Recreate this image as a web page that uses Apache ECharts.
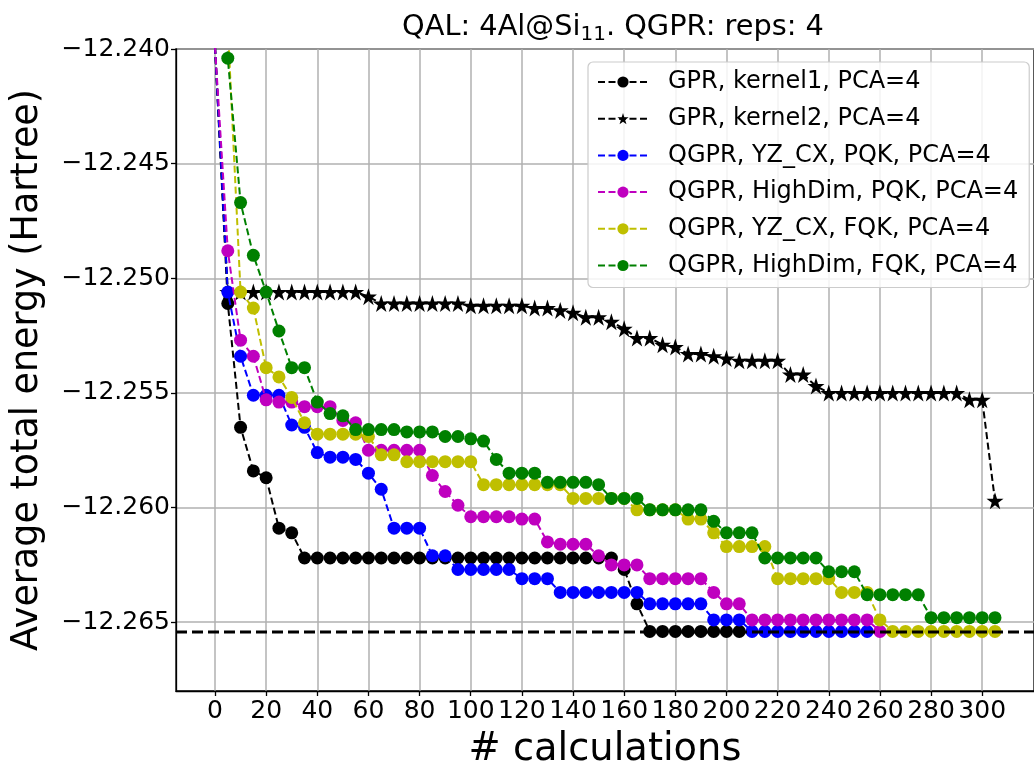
<!DOCTYPE html>
<html>
<head>
<meta charset="utf-8">
<script src="https://cdn.jsdelivr.net/npm/echarts@6/dist/echarts.min.js"></script>
<style>
html,body{margin:0;padding:0;background:#fff;}
#chart{width:1034px;height:774px;}
</style>
</head>
<body>
<div id="chart"></div>
<script>
// ---- data ----
const calcs = [0,5,10,15,20,25,30,35,40,45,50,55,60,65,70,75,80,85,90,95,100,105,110,115,120,125,130,135,140,145,150,155,160,165,170,175,180,185,190,195,200,205,210,215,220,225,230,235,240,245,250,255,260,265,270,275,280,285,290,295,300,305];

const gprKernel1 = [-12.2399,-12.2511,-12.2565,-12.2584,-12.2587,-12.2609,-12.2611,
  -12.2622,-12.2622,-12.2622,-12.2622,-12.2622,-12.2622,-12.2622,-12.2622,-12.2622,-12.2622,-12.2622,-12.2622,-12.2622,
  -12.2622,-12.2622,-12.2622,-12.2622,-12.2622,-12.2622,-12.2622,-12.2622,-12.2622,-12.2622,-12.2622,-12.2622,
  -12.2627,-12.2642,
  -12.2654,-12.2654,-12.2654,-12.2654,-12.2654,-12.2654,-12.2654,-12.2654];

const gprKernel2 = [-12.2399,-12.2506,-12.2506,-12.2506,-12.2506,-12.2506,-12.2506,-12.2506,-12.2506,-12.2506,-12.2506,-12.2506,
  -12.2508,-12.2511,-12.2511,-12.2511,-12.2511,-12.2511,-12.2511,-12.2511,
  -12.2512,-12.2512,-12.2512,-12.2512,-12.2512,-12.2513,-12.2513,-12.2514,-12.2515,-12.2517,-12.2517,
  -12.2519,-12.2522,-12.2526,-12.2526,-12.2529,-12.2530,-12.2533,-12.2533,-12.2534,-12.2535,
  -12.2536,-12.2536,-12.2536,-12.2536,-12.2542,-12.2542,-12.2547,
  -12.2550,-12.2550,-12.2550,-12.2550,-12.2550,-12.2550,-12.2550,-12.2550,-12.2550,-12.2550,-12.2550,
  -12.2553,-12.2553,-12.2597];

const qgprYzPqk = [-12.2399,-12.2506,-12.2534,-12.2551,-12.2551,-12.2551,-12.2564,-12.2565,-12.2576,-12.2578,-12.2578,-12.2579,
  -12.2585,-12.2592,-12.2609,-12.2609,-12.2609,-12.2621,-12.2621,
  -12.2627,-12.2627,-12.2627,-12.2627,-12.2627,
  -12.2631,-12.2631,-12.2631,
  -12.2637,-12.2637,-12.2637,-12.2637,-12.2637,-12.2637,-12.2637,
  -12.2642,-12.2642,-12.2642,-12.2642,-12.2642,
  -12.2649,-12.2649,-12.2649,
  -12.2654,-12.2654,-12.2654,-12.2654,-12.2654,-12.2654,-12.2654,-12.2654,-12.2654,-12.2654];

const qgprHighPqk = [-12.2399,-12.2488,-12.2527,-12.2534,-12.2553,-12.2554,-12.2554,-12.2556,-12.2556,-12.2556,-12.2562,-12.2563,
  -12.2575,-12.2575,-12.2575,-12.2575,-12.2575,
  -12.2586,-12.2593,-12.2599,
  -12.2604,-12.2604,-12.2604,-12.2604,-12.2605,-12.2605,
  -12.2615,-12.2616,-12.2616,-12.2616,-12.2621,
  -12.2625,-12.2625,-12.2625,
  -12.2631,-12.2631,-12.2631,-12.2631,-12.2631,
  -12.2637,-12.2642,-12.2642,
  -12.2649,-12.2649,-12.2649,-12.2649,-12.2649,-12.2649,-12.2649,-12.2649,-12.2649,-12.2649,
  -12.2654];

const qgprYzFqk = [-12.2300,-12.2390,-12.2506,-12.2513,-12.2539,-12.2543,-12.2552,-12.2563,
  -12.2568,-12.2568,-12.2568,-12.2568,-12.2569,-12.2577,-12.2577,
  -12.2580,-12.2580,-12.2580,-12.2580,-12.2580,-12.2580,
  -12.2590,-12.2590,-12.2590,-12.2590,-12.2590,-12.2590,-12.2590,
  -12.2596,-12.2596,-12.2596,-12.2596,-12.2596,
  -12.2601,-12.2601,-12.2601,-12.2601,
  -12.2605,-12.2605,-12.2611,
  -12.2617,-12.2617,-12.2617,-12.2617,
  -12.2631,-12.2631,-12.2631,-12.2631,-12.2631,
  -12.2637,-12.2637,-12.2637,-12.2649,
  -12.2654,-12.2654,-12.2654,-12.2654,-12.2654,-12.2654,-12.2654,-12.2654,-12.2654];

const qgprHighFqk = [-12.2250,-12.2404,-12.2467,-12.2490,-12.2506,-12.2523,-12.2539,-12.2539,-12.2554,-12.2559,-12.2560,
  -12.2566,-12.2566,-12.2566,-12.2566,
  -12.2567,-12.2567,-12.2567,-12.2569,-12.2569,-12.2570,-12.2571,-12.2579,
  -12.2585,-12.2585,-12.2585,
  -12.2589,-12.2589,-12.2589,-12.2589,-12.2590,
  -12.2596,-12.2596,-12.2596,
  -12.2601,-12.2601,-12.2601,-12.2601,-12.2601,
  -12.2606,-12.2611,-12.2611,-12.2611,
  -12.2622,-12.2622,-12.2622,-12.2622,-12.2622,
  -12.2628,-12.2628,-12.2628,
  -12.2638,-12.2638,-12.2638,-12.2638,-12.2638,
  -12.2648,-12.2648,-12.2648,-12.2648,-12.2648,-12.2648];

const referenceEnergy = -12.26543;

const seriesNames = ['GPR, kernel1, PCA=4','GPR, kernel2, PCA=4','QGPR, YZ_CX, PQK, PCA=4','QGPR, HighDim, PQK, PCA=4','QGPR, YZ_CX, FQK, PCA=4','QGPR, HighDim, FQK, PCA=4'];
const seriesColors = ['#000000','#000000','#0000ff','#bf00bf','#bfbf00','#008000'];
const seriesValues = [gprKernel1,gprKernel2,qgprYzPqk,qgprHighPqk,qgprYzFqk,qgprHighFqk];

const xTicks = [0,20,40,60,80,100,120,140,160,180,200,220,240,260,280,300];
const yTicks = [-12.265,-12.260,-12.255,-12.250,-12.245,-12.240];
const xMin = -15.25, xMax = 320.25, yMin = -12.268, yMax = -12.240;

// ---- chart ----
const FONT = 'DejaVu Sans';
const STAR = 'path://M50,0 L61.2,34.5 L97.6,34.5 L68.2,55.9 L79.4,90.5 L50,69.1 L20.6,90.5 L31.8,55.9 L2.4,34.5 L38.8,34.5 Z';

const series = seriesValues.map((vals, k) => ({
  name: seriesNames[k],
  type: 'line',
  data: vals.map((v, i) => [calcs[i], v]),
  symbol: k === 1 ? STAR : 'circle',
  symbolSize: k === 1 ? 17 : 13,
  showAllSymbol: true,
  clip: true,
  animation: false,
  color: seriesColors[k],
  itemStyle: { color: seriesColors[k], borderWidth: 0 },
  lineStyle: { color: seriesColors[k], width: 2, type: [7, 3.5] },
  emphasis: { disabled: true },
  z: 2 + k
}));

// horizontal dashed reference line across the whole x range
series.push({
  name: 'reference',
  type: 'line',
  data: [[xMin, referenceEnergy], [xMax, referenceEnergy]],
  symbol: 'none',
  silent: true,
  clip: true,
  animation: false,
  color: '#000',
  lineStyle: { color: '#000', width: 3, type: [11, 5] },
  emphasis: { disabled: true },
  z: 20
});

const fmtY = v => '\u2212' + Math.abs(v).toFixed(3);

const option = {
  animation: false,
  backgroundColor: '#ffffff',
  textStyle: { fontFamily: FONT },
  title: {
    text: '{a|QAL: 4Al@Si}{b|11}{a|. QGPR: reps: 4}',
    left: 608,
    textAlign: 'center',
    top: 6,
    textStyle: {
      fontFamily: FONT,
      fontWeight: 'normal',
      color: '#000',
      rich: {
        a: { fontFamily: FONT, fontSize: 28.8, color: '#000', lineHeight: 34 },
        b: { fontFamily: FONT, fontSize: 20, color: '#000', lineHeight: 34, padding: [14, 0, 0, 0] }
      }
    }
  },
  grid: {
    left: 176, right: -7, top: 49, bottom: 80,
    show: true, borderColor: '#000', borderWidth: 1.3, backgroundColor: 'transparent',
    containLabel: false
  },
  legend: {
    data: seriesNames,
    orient: 'vertical',
    left: 588,
    top: 62,
    padding: [8, 11, 10, 9],
    itemWidth: 50,
    itemHeight: 14,
    itemGap: 12.7,
    backgroundColor: 'rgba(255,255,255,0.85)',
    borderColor: '#cccccc',
    borderWidth: 1.2,
    borderRadius: 5,
    selectedMode: false,
    z: 30,
    textStyle: { fontFamily: FONT, fontSize: 24, color: '#000', lineHeight: 24, padding: [0, 0, 0, 15] }
  },
  xAxis: {
    type: 'value',
    min: xMin, max: xMax,
    name: '# calculations',
    nameLocation: 'middle',
    nameGap: 40,
    nameTextStyle: { fontFamily: FONT, fontSize: 38.4, color: '#000' },
    axisLine: { show: true, onZero: false, lineStyle: { color: '#000', width: 1.3 } },
    axisTick: { show: true, length: 5, customValues: xTicks, lineStyle: { color: '#000', width: 1.3 } },
    axisLabel: { show: true, customValues: xTicks, margin: 8, fontFamily: FONT, fontSize: 25, color: '#000', formatter: v => String(v) },
    splitLine: { show: true, lineStyle: { color: '#b0b0b0', width: 1.5 } }
  },
  yAxis: {
    type: 'value',
    min: yMin, max: yMax,
    name: 'Average total energy (Hartree)',
    nameLocation: 'middle',
    nameRotate: 90,
    nameGap: 130,
    nameTextStyle: { fontFamily: FONT, fontSize: 36.5, color: '#000' },
    axisLine: { show: true, onZero: false, lineStyle: { color: '#000', width: 1.3 } },
    axisTick: { show: true, length: 5, customValues: yTicks, lineStyle: { color: '#000', width: 1.3 } },
    axisLabel: { show: true, customValues: yTicks, margin: 6, fontFamily: FONT, fontSize: 25, color: '#000', formatter: fmtY },
    splitLine: { show: true, lineStyle: { color: '#b0b0b0', width: 1.5 } }
  },
  series: series
};

const chart = echarts.init(document.getElementById('chart'), null, { renderer: 'canvas' });
chart.setOption(option);
</script>
</body>
</html>
